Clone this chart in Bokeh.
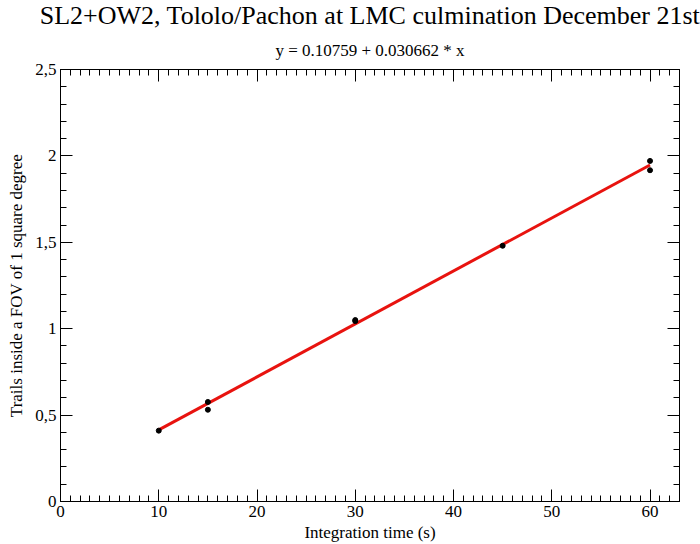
from bokeh.plotting import figure
from bokeh.models import Title, LinearAxis, SingleIntervalTicker, Range1d, CustomJSTickFormatter
from bokeh.embed import file_html
from bokeh.resources import INLINE

title_text = "SL2+OW2, Tololo/Pachon at LMC culmination December 21st"
subtitle_text = "y = 0.10759 + 0.030662 * x"
x_label = "Integration time (s)"
y_label = "Trails inside a FOV of 1 square degree"

x_data = [10, 15, 15, 30, 30, 45, 60, 60]
y_data = [0.41, 0.576, 0.531, 1.050, 1.044, 1.480, 1.971, 1.917]

fit_intercept = 0.10759
fit_slope = 0.030662
fit_x = [10, 60]
fit_y = [fit_intercept + fit_slope * v for v in fit_x]

y_ticks = [0, 0.5, 1, 1.5, 2, 2.5]
y_tick_labels = ["0", "0,5", "1", "1,5", "2", "2,5"]

FONT = "Liberation Serif"

p = figure(width=700, height=544, output_backend="svg", toolbar_location=None,
           x_range=Range1d(0, 63), y_range=Range1d(0, 2.5),
           min_border_left=60, min_border_right=21, min_border_top=69, min_border_bottom=42)
p.title.visible = False
p.xgrid.visible = False
p.ygrid.visible = False
p.outline_line_color = "black"
p.background_fill_color = "white"
p.border_fill_color = "white"

bottom_ax = p.below[0]
left_ax = p.left[0]

blank = CustomJSTickFormatter(code="return '';")

def style_axis(ax, ticker, show_labels):
    ax.ticker = ticker
    ax.major_tick_in = 12
    ax.major_tick_out = 0
    ax.minor_tick_in = 6
    ax.minor_tick_out = 0
    ax.axis_line_color = "black"
    ax.major_tick_line_color = "black"
    ax.minor_tick_line_color = "black"
    ax.major_label_text_font = FONT
    ax.major_label_text_color = "black"
    ax.axis_label_text_font = FONT
    ax.axis_label_text_font_style = "normal"
    ax.axis_label_text_color = "black"
    ax.axis_label_text_font_size = "17px"
    ax.major_label_text_font_size = "17px"
    if show_labels:
        ax.major_label_standoff = 4
    else:
        ax.formatter = blank
        ax.major_label_standoff = 0

style_axis(bottom_ax, SingleIntervalTicker(interval=10, num_minor_ticks=10), True)
style_axis(left_ax, SingleIntervalTicker(interval=0.5, num_minor_ticks=5), True)
bottom_ax.axis_label = x_label
left_ax.axis_label = y_label
bottom_ax.axis_label_standoff = 3
left_ax.axis_label_standoff = 6
left_ax.major_label_overrides = dict(zip(y_ticks, y_tick_labels))

top_ax = LinearAxis()
style_axis(top_ax, SingleIntervalTicker(interval=10, num_minor_ticks=10), False)
right_ax = LinearAxis()
style_axis(right_ax, SingleIntervalTicker(interval=0.5, num_minor_ticks=5), False)
p.add_layout(top_ax, "above")
p.add_layout(right_ax, "right")

p.add_layout(Title(text=subtitle_text, align="center", text_font=FONT,
                   text_font_size="17px", text_font_style="normal",
                   text_color="black", standoff=20), "above")
p.add_layout(Title(text=title_text, align="center", text_font=FONT,
                   text_font_size="26px", text_font_style="normal",
                   text_color="black", standoff=-3), "above")

p.line(fit_x, fit_y, line_color="#e8130f", line_width=3)
p.scatter(x_data, y_data, size=5, fill_color="black", line_color="black")

open("out.html", "w").write(file_html(p, INLINE))
